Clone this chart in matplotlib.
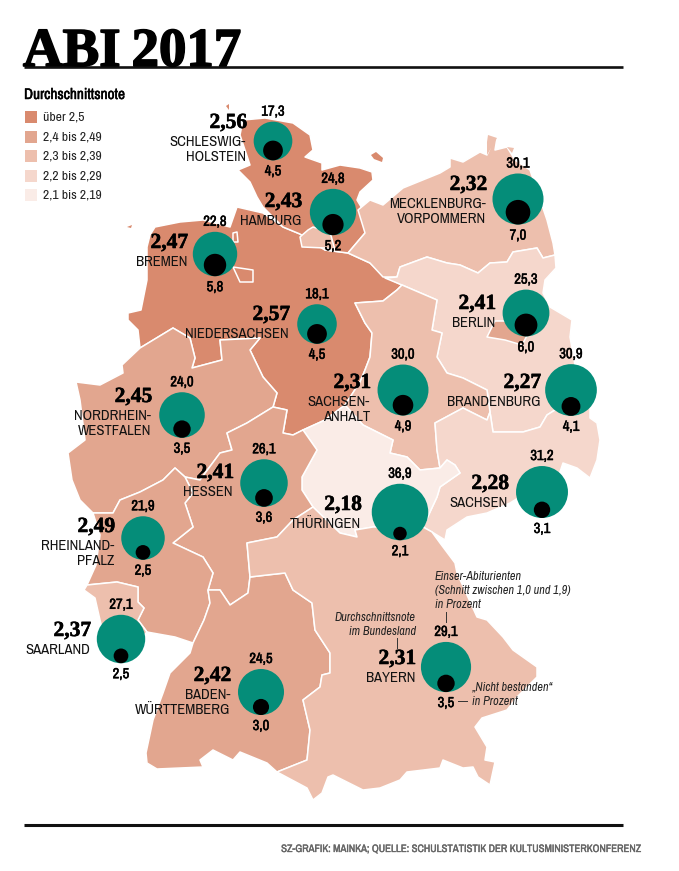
"""Abi 2017 map: average grade, top grades and fail rate for each German state."""

import math

import matplotlib

matplotlib.use("Agg")
import matplotlib.pyplot as plt
from matplotlib import font_manager
from matplotlib.patches import Circle, Polygon, Rectangle
import matplotlib.patheffects as pe

# data
states = ["Schleswig-Holstein", "Hamburg", "Bremen", "Mecklenburg-Vorpommern", "Berlin",
          "Brandenburg", "Sachsen-Anhalt", "Niedersachsen", "Nordrhein-Westfalen", "Hessen",
          "Rheinland-Pfalz", "Saarland", "Baden-Württemberg", "Bayern", "Thüringen", "Sachsen"]
grades = [2.56, 2.43, 2.47, 2.32, 2.41, 2.27, 2.31, 2.57, 2.45, 2.41, 2.49, 2.37, 2.42, 2.31, 2.18, 2.28]
top_pct = [17.3, 24.8, 22.8, 30.1, 25.3, 30.9, 30.0, 18.1, 24.0, 26.1, 21.9, 27.1, 24.5, 29.1, 36.9, 31.2]
fail_pct = [4.5, 5.2, 5.8, 7.0, 6.0, 4.1, 4.9, 4.5, 3.5, 3.6, 2.5, 2.5, 3.0, 3.5, 2.1, 3.1]
state_labels = [["SCHLESWIG-", "HOLSTEIN"], ["HAMBURG"], ["BREMEN"], ["MECKLENBURG-", "VORPOMMERN"],
                ["BERLIN"], ["BRANDENBURG"], ["SACHSEN-", "ANHALT"], ["NIEDERSACHSEN"],
                ["NORDRHEIN-", "WESTFALEN"], ["HESSEN"], ["RHEINLAND-", "PFALZ"], ["SAARLAND"],
                ["BADEN-", "WÜRTTEMBERG"], ["BAYERN"], ["THÜRINGEN"], ["SACHSEN"]]
legend_labels = ["über 2,5", "2,4 bis 2,49", "2,3 bis 2,39", "2,2 bis 2,29", "2,1 bis 2,19"]

# layout, in picture pixels
CLASS_COLORS = ["#D98A6E", "#E2A68F", "#EDBFAD", "#F5D7CC", "#FAECE7"]
GREEN = "#058D79"
bubble_xy = [(273, 141), (333, 212), (215, 254), (518, 199), (526, 313), (571, 390), (403, 390), (317, 324),
             (182, 415), (264, 483), (143, 538), (121, 639), (261, 692), (446, 667), (400, 512), (542, 492)]
# right edge of the label block, y of the grade
label_xy = [(247, 123), (302, 202), (188, 243), (487, 185), (496, 304), (541, 383), (371, 383), (290, 315),
            (152, 397), (234, 473), (115, 527), (91, 631), (231, 676), (416, 659), (362, 505), (509, 484)]
BUBBLE_K = 4.65  # radius = k * sqrt(percent)

outlines = {
    "Niedersachsen": [(147, 247), (150, 235), (155, 227), (180, 222), (203, 220), (230, 227), (237, 207), (263, 213),
                      (283, 227), (300, 234), (325, 250), (348, 253), (370, 263), (385, 277), (402, 285), (397, 290),
                      (383, 301), (355, 303), (365, 323), (372, 333), (370, 357), (365, 370), (360, 382), (345, 405),
                      (325, 420), (303, 430), (293, 435), (283, 433), (287, 410), (273, 407), (277, 393), (263, 377),
                      (250, 350), (260, 338), (220, 340), (222, 360), (192, 368), (195, 358), (190, 338), (173, 328),
                      (140, 348), (138, 330), (128, 320), (128, 313), (141, 310), (147, 280)],
    "Schleswig-Holstein": [(243, 120), (265, 118), (293, 123), (310, 135), (313, 150), (305, 157), (322, 163),
                           (322, 170), (340, 165), (360, 168), (372, 172), (373, 180), (360, 192), (357, 200),
                           (363, 210), (365, 233), (348, 253), (325, 250), (300, 234), (283, 227), (263, 207),
                           (257, 197), (250, 182), (238, 170), (250, 165), (245, 150), (240, 135)],
    "Mecklenburg-Vorpommern": [(348, 253), (365, 233), (358, 210), (370, 200), (383, 205), (403, 188), (440, 173),
                               (450, 167), (450, 158), (463, 162), (480, 152), (487, 155), (490, 148), (486, 152),
                               (487, 142), (497, 138), (495, 150), (507, 147), (515, 160), (530, 170), (547, 220),
                               (553, 243), (555, 255), (543, 258), (537, 248), (513, 252), (507, 262), (490, 263),
                               (478, 273), (460, 265), (447, 263), (427, 257), (400, 267), (397, 277), (383, 277),
                               (370, 263)],
    "Brandenburg": [(385, 278), (397, 277), (400, 267), (427, 257), (447, 263), (460, 265), (478, 273), (490, 263),
                    (507, 262), (513, 252), (537, 248), (543, 258), (555, 255), (556, 268), (545, 280), (543, 293),
                    (550, 307), (572, 320), (570, 337), (575, 365), (590, 405), (571, 400), (547, 415), (540, 427),
                    (523, 432), (493, 432), (490, 412), (487, 390), (463, 378), (447, 373), (437, 357), (442, 333),
                    (432, 330), (437, 300), (402, 285)],
    "Sachsen-Anhalt": [(355, 303), (383, 301), (397, 290), (402, 285), (437, 300), (432, 330), (442, 333), (437, 357),
                       (447, 373), (463, 378), (487, 390), (490, 412), (487, 420), (463, 408), (435, 423), (437, 450),
                       (440, 468), (420, 470), (407, 457), (390, 453), (393, 440), (363, 425), (345, 405), (360, 382),
                       (365, 370), (370, 357), (372, 333), (365, 323)],
    "Sachsen": [(435, 423), (463, 408), (487, 420), (490, 412), (493, 432), (523, 432), (540, 427), (547, 415),
                (571, 400), (590, 405), (590, 418), (597, 423), (600, 440), (597, 460), (590, 478), (577, 468),
                (563, 463), (560, 472), (510, 503), (487, 513), (467, 517), (447, 530), (445, 540), (432, 532),
                (423, 527), (437, 497), (440, 487), (460, 473), (455, 465), (447, 460), (440, 468), (437, 450)],
    "Thüringen": [(303, 430), (325, 420), (345, 405), (363, 425), (393, 440), (390, 453), (407, 457), (420, 470),
                  (440, 468), (447, 460), (455, 465), (460, 473), (440, 487), (437, 497), (423, 527), (373, 527),
                  (355, 530), (357, 537), (340, 533), (313, 507), (302, 490), (302, 477), (317, 450)],
    "Nordrhein-Westfalen": [(140, 348), (173, 328), (190, 338), (195, 358), (192, 368), (222, 360), (220, 340),
                            (260, 338), (250, 350), (263, 377), (277, 393), (273, 407), (247, 423), (227, 433),
                            (232, 450), (220, 453), (200, 480), (185, 477), (175, 468), (163, 480), (140, 492),
                            (120, 500), (113, 513), (93, 513), (80, 500), (72, 480), (68, 453), (85, 440), (80, 400),
                            (76, 382), (100, 385), (123, 373), (122, 365)],
    "Hessen": [(273, 407), (287, 410), (283, 433), (293, 435), (303, 430), (317, 450), (302, 477), (302, 490),
               (313, 507), (293, 520), (277, 537), (247, 543), (250, 577), (248, 593), (230, 605), (220, 590),
               (208, 590), (213, 573), (203, 557), (173, 543), (193, 527), (185, 503), (193, 493), (185, 477),
               (200, 480), (220, 453), (232, 450), (227, 433), (247, 423)],
    "Rheinland-Pfalz": [(93, 513), (113, 513), (120, 500), (140, 492), (163, 480), (175, 468), (185, 477), (193, 493),
                        (185, 503), (193, 527), (173, 543), (203, 557), (213, 573), (208, 590), (210, 603), (204, 620),
                        (193, 643), (175, 637), (147, 632), (138, 620), (144, 608), (138, 602), (138, 587), (117, 582),
                        (87, 585), (96, 565), (100, 535)],
    "Saarland": [(84, 590), (87, 585), (117, 582), (138, 587), (138, 602), (144, 608), (138, 620), (147, 632),
                 (130, 650), (105, 640), (100, 620), (95, 598)],
    "Baden-Württemberg": [(193, 643), (204, 620), (210, 603), (208, 590), (220, 590), (230, 605), (248, 593), (250, 577),
                          (267, 575), (285, 573), (293, 590), (312, 603), (315, 630), (330, 653), (330, 673), (322, 675),
                          (320, 687), (303, 700), (310, 730), (307, 760), (277, 772), (267, 763), (240, 752), (233, 760),
                          (213, 750), (200, 760), (203, 767), (157, 769), (147, 763), (146, 753), (153, 720), (163, 693),
                          (170, 673), (190, 653)],
    "Bayern": [(247, 543), (277, 537), (293, 520), (313, 507), (340, 533), (357, 537), (355, 530), (373, 527),
               (423, 527), (432, 532), (440, 543), (455, 563), (457, 573), (477, 617), (487, 620), (503, 637),
               (513, 650), (537, 667), (537, 677), (517, 697), (507, 710), (482, 718), (475, 727), (487, 747),
               (485, 760), (495, 762), (490, 785), (478, 777), (473, 767), (463, 768), (443, 760), (440, 768),
               (407, 772), (400, 780), (380, 788), (363, 790), (333, 775), (328, 777), (322, 793), (313, 800),
               (307, 788), (277, 772), (307, 760), (310, 730), (303, 700), (320, 687), (322, 675), (330, 673),
               (330, 653), (315, 630), (312, 603), (293, 590), (285, 573), (267, 575), (250, 577)],
    "Berlin": [(487, 337), (495, 321), (515, 321), (530, 330), (522, 345), (505, 340)],
    "Hamburg": [(300, 237), (308, 230), (313, 227), (330, 232), (335, 250), (325, 248), (302, 247)],
    "Bremerhaven": [(233, 233), (237, 232), (238, 242), (233, 242)],
    "Bremen": [(233, 267), (253, 270), (253, 282), (240, 282)],
}
outline_class = {"Niedersachsen": 0, "Schleswig-Holstein": 0, "Mecklenburg-Vorpommern": 2, "Brandenburg": 3,
                 "Sachsen-Anhalt": 2, "Sachsen": 3, "Thüringen": 4, "Nordrhein-Westfalen": 1, "Hessen": 1,
                 "Rheinland-Pfalz": 1, "Saarland": 2, "Baden-Württemberg": 1, "Bayern": 2, "Berlin": 1,
                 "Hamburg": 2, "Bremerhaven": 0, "Bremen": 0}
islands = [([(371, 155), (376, 152), (383, 158), (382, 162), (374, 159)], 0),
           ([(226, 106), (229, 104), (229, 110)], 0),
           ([(248, 151), (253, 150), (252, 155)], 0),
           ([(127, 227), (132, 225), (131, 228)], 0),
           ([(488, 135), (497, 138), (493, 145), (487, 155), (487, 142)], 2),
           ([(507, 147), (514, 148), (512, 153)], 2)]

# the reference uses a condensed sans; take one if the machine has it, otherwise Lato
installed = sorted({f.name for f in font_manager.fontManager.ttflist})
condensed = [n for n in installed if "Narrow" in n or "Condensed" in n]
NARROW = [condensed[0], "DejaVu Sans"] if condensed else ["Lato", "DejaVu Sans"]
SERIF = ["Liberation Serif", "DejaVu Serif"]
# no bold cut of the narrow face, so thicken it with a thin stroke
BOLD = [pe.withStroke(linewidth=0.35, foreground="black")]

fig = plt.figure(figsize=(6.79, 8.71), dpi=100)
ax = fig.add_axes([0, 0, 1, 1])
ax.set_xlim(0, 679)
ax.set_ylim(871, 0)
ax.axis("off")

# title and rules
ax.text(23, 66, "ABI\u20092017", family=SERIF, fontsize=39.5, fontweight="bold", va="baseline", color="black",
        path_effects=[pe.withStroke(linewidth=1.2, foreground="black")])
ax.plot([24, 623], [67.5, 67.5], color="#111111", lw=1.9, solid_capstyle="butt")
ax.plot([24, 623], [825, 825], color="#111111", lw=2.2, solid_capstyle="butt")
ax.text(641, 849, "SZ-GRAFIK: MAINKA; QUELLE: SCHULSTATISTIK DER KULTUSMINISTERKONFERENZ", family=NARROW,
        fontsize=7.75, color="#666666", ha="right", va="center",
        path_effects=[pe.withStroke(linewidth=0.25, foreground="#666666")])

# legend
ax.text(24, 95, "Durchschnittsnote", family=NARROW, fontsize=11, va="center", path_effects=BOLD)
for i, label in enumerate(legend_labels):
    y = 117.5 + i * 19.4
    ax.add_patch(Rectangle((25, y - 6), 12, 12, facecolor=CLASS_COLORS[i], edgecolor="none"))
    ax.text(43, y, label, family=NARROW, fontsize=9.8, color="#222222", va="center")

# map
for name, points in outlines.items():
    ax.add_patch(Polygon(points, closed=True, facecolor=CLASS_COLORS[outline_class[name]], edgecolor="white",
                         lw=1.1, joinstyle="round", zorder=2))
for points, cls in islands:
    ax.add_patch(Polygon(points, closed=True, facecolor=CLASS_COLORS[cls], edgecolor="none", zorder=2))

# bubbles and labels
for i, name in enumerate(states):
    cx, cy = bubble_xy[i]
    r_top = BUBBLE_K * math.sqrt(top_pct[i])
    r_fail = BUBBLE_K * math.sqrt(fail_pct[i])
    ax.add_patch(Circle((cx, cy), r_top, facecolor=GREEN, edgecolor="none", zorder=3))
    ax.add_patch(Circle((cx, cy + r_top - r_fail), r_fail, facecolor="black", edgecolor="none", zorder=4))
    ax.text(cx, cy - r_top - 10, f"{top_pct[i]:.1f}".replace(".", ","), family=NARROW, fontsize=10.5,
            ha="center", va="center", zorder=5, path_effects=BOLD)
    ax.text(cx, cy + r_top + 11, f"{fail_pct[i]:.1f}".replace(".", ","), family=NARROW, fontsize=10.5,
            ha="center", va="center", zorder=5, path_effects=BOLD)

    lx, ly = label_xy[i]
    ax.text(lx, ly, f"{grades[i]:.2f}".replace(".", ","), family=SERIF, fontsize=15.5, fontweight="bold",
            ha="right", va="center", zorder=5,
            path_effects=[pe.withStroke(linewidth=0.4, foreground="black")])
    for j, line in enumerate(state_labels[i]):
        ax.text(lx - 1, ly + 19 + j * 15, line, family=NARROW, fontsize=10.6, color="#111111",
                ha="right", va="center", zorder=5)

# reading guide around Bayern
note_style = dict(family=NARROW, fontsize=8.8, style="italic", color="#222222", va="center", zorder=5)
for y, line in zip([576, 590, 604], ["Einser-Abiturienten", "(Schnitt zwischen 1,0 und 1,9)", "in Prozent"]):
    ax.text(435, y, line, **note_style)
for y, line in zip([617, 631], ["Durchschnittsnote", "im Bundesland"]):
    ax.text(416, y, line, ha="right", **note_style)
for y, line in zip([687, 701], ["„Nicht bestanden“", "in Prozent"]):
    ax.text(472, y, line, **note_style)
ax.plot([446, 446], [612, 622], color="#333333", lw=0.7, zorder=5)
ax.plot([397, 397], [638, 648], color="#333333", lw=0.7, zorder=5)
ax.plot([458, 467], [701, 701], color="#333333", lw=0.7, zorder=5)

fig.savefig("out.png", dpi=100)
plt.close(fig)
